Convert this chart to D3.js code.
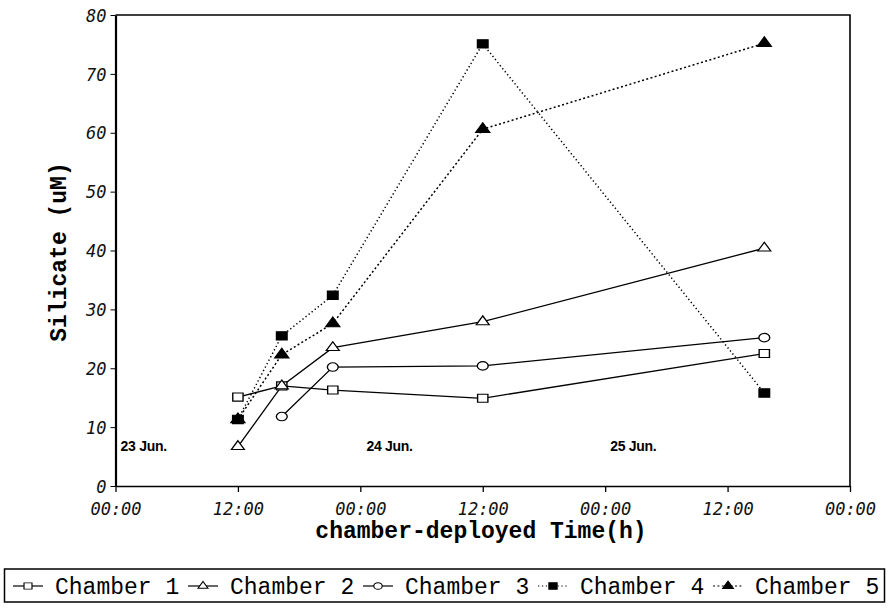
<!DOCTYPE html>
<html>
<head>
<meta charset="utf-8">
<script src="https://cdn.jsdelivr.net/npm/d3@7"></script>
<style>
  body { margin: 0; background: #fff; }
  svg { display: block; }
  .tick text { font-family: "DejaVu Sans Mono", monospace; font-style: italic; font-size: 17px; fill: #111; }
  .title { font-family: "Liberation Mono", "Courier New", monospace; font-weight: bold; font-size: 23px; fill: #000; }
  .day { font-family: "Liberation Sans", Arial, sans-serif; font-weight: bold; font-size: 14px; letter-spacing: -0.3px; fill: #000; }
  .leg { font-family: "Liberation Mono", "Courier New", monospace; font-size: 23px; fill: #000; }
</style>
</head>
<body>
<svg id="chart" width="890" height="609"></svg>
<script>
// hours since 23 Jun 00:00
var hours = [12, 16.3, 21.3, 36, 63.6];

var chamber1 = [15.1, 17.0, 16.3, 14.9, 22.5];
var chamber2 = [6.7, 17.0, 23.5, 27.9, 40.4];
var chamber3 = [null, 11.8, 20.2, 20.4, 25.2];
var chamber4 = [11.3, 25.5, 32.4, 75.1, 15.8];
var chamber5 = [11.3, 22.3, 27.6, 60.6, 75.2];

var seriesNames = ["Chamber 1", "Chamber 2", "Chamber 3", "Chamber 4", "Chamber 5"];

var xTicks = [0, 12, 24, 36, 48, 60, 72];
var xTickLabels = ["00:00", "12:00", "00:00", "12:00", "00:00", "12:00", "00:00"];
var yTicks = [0, 10, 20, 30, 40, 50, 60, 70, 80];

var dayLabels = ["23 Jun.", "24 Jun.", "25 Jun."];
var dayHours = [0.5, 24.6, 48.5];
var dayValue = 6;

var svg = d3.select("#chart");

var x = d3.scaleLinear().domain([0, 72]).range([115.5, 850]);
var y = d3.scaleLinear().domain([0, 80]).range([486, 15]);

// marker + line style per series
var styles = [
  { sym: d3.symbolSquare,   size: 80, fill: "#fff", dash: null },
  { sym: d3.symbolTriangle, size: 55, fill: "#fff", dash: null },
  { sym: d3.symbolCircle,   size: 70, fill: "#fff", dash: null },
  { sym: d3.symbolSquare,   size: 85, fill: "#000", dash: "1.3,2.6" },
  { sym: d3.symbolTriangle, size: 65, fill: "#000", dash: "2,2.4" }
];

var series = [chamber1, chamber2, chamber3, chamber4, chamber5].map(function(vals, i) {
  return {
    name: seriesNames[i],
    style: styles[i],
    points: vals.map(function(v, j) { return { h: hours[j], v: v }; })
                .filter(function(p) { return p.v != null; })
  };
});

// frame (top + right)
svg.append("path")
  .attr("d", "M" + x(0) + "," + y(80) + "H" + x(72) + "V" + y(0))
  .attr("fill", "none").attr("stroke", "#000").attr("stroke-width", 1.6);

// axes
var xAxis = svg.append("g")
  .attr("transform", "translate(0," + y(0) + ")")
  .call(d3.axisBottom(x).tickValues(xTicks)
    .tickFormat(function(d, i) { return xTickLabels[i]; })
    .tickSize(6).tickSizeOuter(0).tickPadding(11));
xAxis.select(".domain").attr("stroke-width", 1.6);
xAxis.selectAll(".tick line").attr("stroke-width", 1.3);

var yAxis = svg.append("g")
  .attr("transform", "translate(" + x(0) + ",0)")
  .call(d3.axisLeft(y).tickValues(yTicks).tickSize(5).tickSizeOuter(0).tickPadding(4));
yAxis.select(".domain").attr("stroke-width", 2.2);
yAxis.selectAll(".tick line").attr("stroke-width", 1);
yAxis.selectAll(".tick text").attr("dy", "0.36em");

// axis titles
svg.append("text").attr("class", "title")
  .attr("x", 481).attr("y", 538).attr("text-anchor", "middle")
  .text("chamber-deployed Time(h)");
svg.append("text").attr("class", "title")
  .attr("transform", "translate(66,252) rotate(-90)")
  .attr("text-anchor", "middle")
  .text("Silicate (uM)");

// day labels
svg.selectAll(".day").data(dayLabels).enter().append("text")
  .attr("class", "day")
  .attr("x", function(d, i) { return x(dayHours[i]); })
  .attr("y", y(dayValue))
  .text(function(d) { return d; });

// lines
var line = d3.line().x(function(p) { return x(p.h); }).y(function(p) { return y(p.v); });

svg.append("g").selectAll("path").data(series).enter().append("path")
  .attr("d", function(s) { return line(s.points); })
  .attr("fill", "none")
  .attr("stroke", "#000")
  .attr("stroke-width", function(s) { return s.style.dash ? 1.5 : 1.3; })
  .attr("stroke-dasharray", function(s) { return s.style.dash; });

// markers (chamber 5 first so chamber 4 sits on top at 12:00)
var drawOrder = [0, 1, 2, 4, 3];
drawOrder.forEach(function(i) {
  var s = series[i];
  svg.append("g").selectAll("path").data(s.points).enter().append("path")
    .attr("d", d3.symbol().type(s.style.sym).size(s.style.size))
    .attr("transform", function(p) {
      return "translate(" + x(p.h) + "," + y(p.v) + ") scale(1.15,0.9)";
    })
    .attr("fill", s.style.fill)
    .attr("stroke", "#000")
    .attr("stroke-width", 1.2);
});

// legend
var legend = svg.append("g");
legend.append("rect")
  .attr("x", 4.5).attr("y", 569).attr("width", 880).attr("height", 33)
  .attr("fill", "#fff").attr("stroke", "#000").attr("stroke-width", 1.5);

var items = legend.selectAll(".item").data(series).enter().append("g")
  .attr("transform", function(d, i) { return "translate(" + (55 + i * 175) + ",0)"; });
items.append("line")
  .attr("x1", -42).attr("x2", -12).attr("y1", 586).attr("y2", 586)
  .attr("stroke", "#000").attr("stroke-width", 1.2)
  .attr("stroke-dasharray", function(s) { return s.style.dash; });
items.append("path")
  .attr("d", function(s) { return d3.symbol().type(s.style.sym).size(s.style.size * 0.6)(); })
  .attr("transform", "translate(-27,586) scale(1.15,0.9)")
  .attr("fill", function(s) { return s.style.fill; })
  .attr("stroke", "#000").attr("stroke-width", 1);
items.append("text").attr("class", "leg")
  .attr("x", 0).attr("y", 594)
  .text(function(s) { return s.name; });
</script>
</body>
</html>
